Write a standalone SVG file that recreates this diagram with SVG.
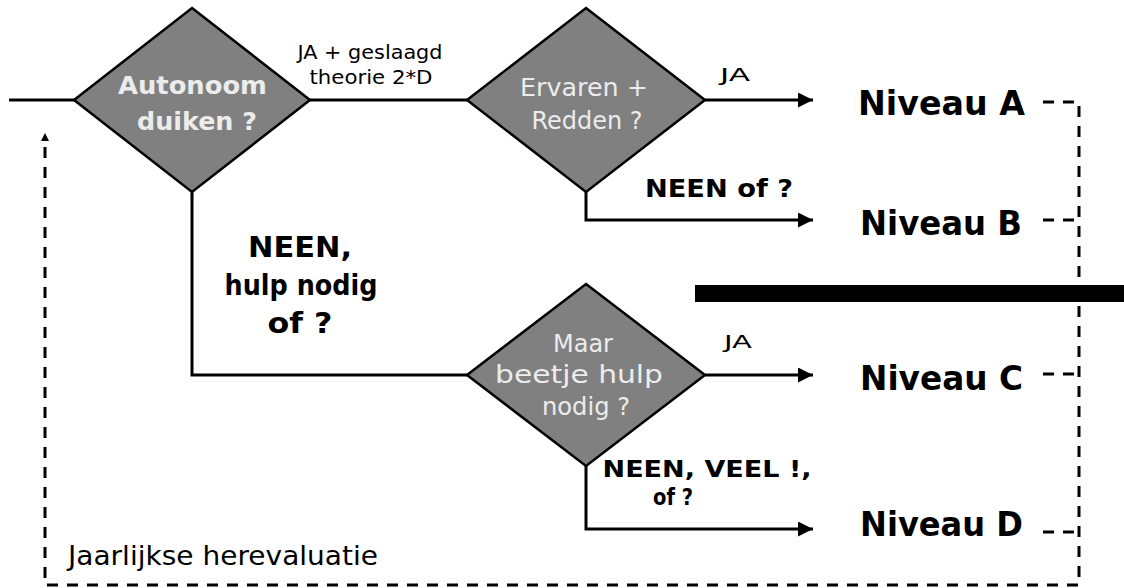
<svg xmlns="http://www.w3.org/2000/svg" width="1124" height="588" viewBox="0 0 1124 588">
  <style>
    .dia { fill: #808080; stroke: #000; stroke-width: 2.5; stroke-linejoin: miter; }
    .dtxt { font-family: "DejaVu Sans", "Noto Sans", sans-serif; fill: #ececec; text-anchor: middle; }
    .lbl { font-family: "DejaVu Sans", "Noto Sans", sans-serif; fill: #000; text-anchor: middle; }
    .b { font-weight: bold; }
    .conn { fill: none; stroke: #000; stroke-width: 3; }
    .dash { fill: none; stroke: #000; stroke-width: 3; stroke-dasharray: 11 9; }
  </style>
  <defs>
    <marker id="arr" markerUnits="userSpaceOnUse" markerWidth="16" markerHeight="16" refX="15" refY="7.5" orient="auto">
      <path d="M0,0 L15,7.5 L0,15 z" fill="#000"/>
    </marker>
    <marker id="arrS" markerUnits="userSpaceOnUse" markerWidth="10" markerHeight="10" refX="8" refY="4" orient="auto">
      <path d="M0,0 L8,4 L0,8 z" fill="#000"/>
    </marker>
  </defs>
  <rect width="1124" height="588" fill="#fff"/>

  <g id="connectors">
    <path class="conn" d="M9,100 H74"/>
    <path class="conn" d="M310,100 H467"/>
    <path class="conn" d="M705,100 H813" marker-end="url(#arr)"/>
    <path class="conn" d="M586,192 V220 H813" marker-end="url(#arr)"/>
    <path class="conn" d="M192,192 V375 H467"/>
    <path class="conn" d="M705,375 H813" marker-end="url(#arr)"/>
    <path class="conn" d="M586,466 V529 H813" marker-end="url(#arr)"/>
    <path class="dash" d="M1043,102 H1079 V585 H45 V142"/>
    <path d="M45,141 V133" stroke="none" fill="none" marker-end="url(#arrS)"/>
    <path class="dash" d="M1043,220 H1079"/>
    <path class="dash" d="M1043,374 H1079"/>
    <path class="dash" d="M1043,532 H1079"/>
    <text class="lbl" x="370" y="59" font-size="19" textLength="145" lengthAdjust="spacingAndGlyphs">JA + geslaagd</text>
    <text class="lbl" x="371" y="84" font-size="19" textLength="123" lengthAdjust="spacingAndGlyphs">theorie 2*D</text>
    <text class="lbl" x="735" y="81" font-size="17" textLength="30" lengthAdjust="spacingAndGlyphs">JA</text>
    <text class="lbl b" x="719" y="197" font-size="24" textLength="148" lengthAdjust="spacingAndGlyphs">NEEN of ?</text>
    <text class="lbl b" x="300" y="257" font-size="29" textLength="104" lengthAdjust="spacingAndGlyphs">NEEN,</text>
    <text class="lbl b" x="301" y="295" font-size="29" textLength="153" lengthAdjust="spacingAndGlyphs">hulp nodig</text>
    <text class="lbl b" x="300" y="333" font-size="29" textLength="65" lengthAdjust="spacingAndGlyphs">of ?</text>
    <text class="lbl" x="738" y="348" font-size="17" textLength="28" lengthAdjust="spacingAndGlyphs">JA</text>
    <text class="lbl b" x="707" y="477" font-size="23" textLength="209" lengthAdjust="spacingAndGlyphs">NEEN, VEEL !,</text>
    <text class="lbl b" x="673" y="505" font-size="23" textLength="40" lengthAdjust="spacingAndGlyphs">of ?</text>
    <text class="lbl" x="68" y="565" font-size="27" style="text-anchor:start" textLength="310" lengthAdjust="spacingAndGlyphs">Jaarlijkse herevaluatie</text>
  </g>

  <rect id="bar" x="695" y="285" width="429" height="17" fill="#000"/>

  <g id="q-autonoom">
    <polygon class="dia" points="192,8 310,100 192,192 74,100"/>
    <text class="dtxt b" x="192.5" y="94" font-size="24" textLength="149" lengthAdjust="spacingAndGlyphs">Autonoom</text>
    <text class="dtxt b" x="197" y="130" font-size="24" textLength="120" lengthAdjust="spacingAndGlyphs">duiken ?</text>
  </g>

  <g id="q-ervaren">
    <polygon class="dia" points="586,8 705,100 586,192 467,100"/>
    <text class="dtxt" x="584" y="96" font-size="24" textLength="128" lengthAdjust="spacingAndGlyphs">Ervaren +</text>
    <text class="dtxt" x="587" y="129" font-size="24" textLength="111" lengthAdjust="spacingAndGlyphs">Redden ?</text>
  </g>

  <g id="q-beetje">
    <polygon class="dia" points="586,284 705,375 586,466 467,375"/>
    <text class="dtxt" x="583" y="352" font-size="25" textLength="60" lengthAdjust="spacingAndGlyphs">Maar</text>
    <text class="dtxt" x="579" y="383" font-size="25" textLength="168" lengthAdjust="spacingAndGlyphs">beetje hulp</text>
    <text class="dtxt" x="586" y="415" font-size="25" textLength="88" lengthAdjust="spacingAndGlyphs">nodig ?</text>
  </g>

  <g id="niveau-a">
    <text class="lbl b" x="858" y="115" font-size="34" style="text-anchor:start" textLength="167" lengthAdjust="spacingAndGlyphs">Niveau A</text>
  </g>
  <g id="niveau-b">
    <text class="lbl b" x="860" y="235" font-size="34" style="text-anchor:start" textLength="162" lengthAdjust="spacingAndGlyphs">Niveau B</text>
  </g>
  <g id="niveau-c">
    <text class="lbl b" x="860" y="390" font-size="34" style="text-anchor:start" textLength="163" lengthAdjust="spacingAndGlyphs">Niveau C</text>
  </g>
  <g id="niveau-d">
    <text class="lbl b" x="860" y="536" font-size="34" style="text-anchor:start" textLength="163" lengthAdjust="spacingAndGlyphs">Niveau D</text>
  </g>
</svg>
